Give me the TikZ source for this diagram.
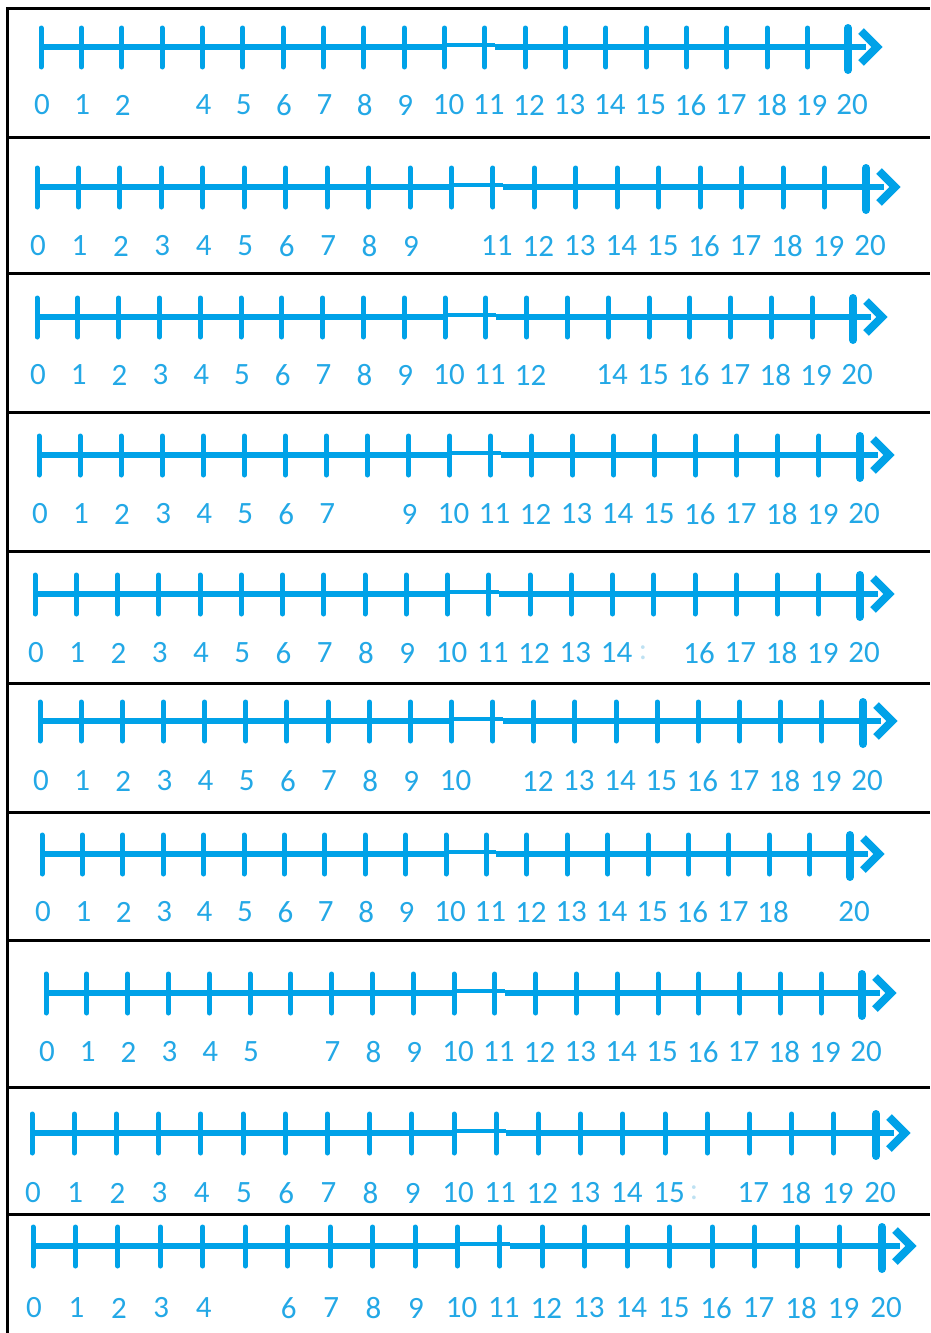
\documentclass[tikz,border=0pt]{standalone}
\usepackage{fontspec}
\setmainfont{Carlito}
\definecolor{nlblue}{RGB}{0,162,232}
\definecolor{nltext}{RGB}{35,168,230}
\definecolor{faint}{RGB}{190,225,242}
\tikzset{
  x=1pt, y=-1pt,
  frameline/.style={line width=3pt, black},
  mainline/.style={line width=5.5pt, nlblue},
  joinline/.style={line width=4.5pt, nlblue},
  tickline/.style={line width=5pt, nlblue, line cap=round},
  endtick/.style={line width=8pt, nlblue, line cap=round},
  chevron/.style={line width=8pt, nlblue, miter limit=10},
  lbl/.style={text=nltext, font=\fontsize{31}{31}\selectfont, inner sep=0pt, anchor=center},
}
\newcommand\numline[6]{%
  \pgfmathsetmacro\dx{(#3-#2)/20}%
  \pgfmathsetmacro\tten{#2+10*\dx}%
  \pgfmathsetmacro\televen{#2+11*\dx+10}%
  \draw[mainline] (#2,#4) -- (\tten,#4);
  \draw[joinline] (\tten,#4-2) -- (\televen,#4-2);
  \draw[mainline] (\televen,#4) -- (#3+18,#4);
  \foreach \k in {0,...,19}{%
    \pgfmathsetmacro\tx{#2+\k*\dx}%
    \draw[tickline] (\tx,#4-19) -- (\tx,#4+20);
  }
  \draw[endtick] (#3,#4-19) -- (#3,#4+23);
  \draw[chevron] (#3+13,#4-16) -- (#3+29,#4) -- (#3+13,#4+16);
  \foreach \k in {0,...,20}{%
    \pgfmathsetmacro\tx{#2+\k*\dx+(\k>9?4:1)}%
    \ifnum\k=#6\relax\else
      \node[lbl] (r#1-\k) at (\tx,#5) {\k};
    \fi
  }
}
\begin{document}
\begin{tikzpicture}
\useasboundingbox (0,0) rectangle (930,1333);
% frame
\draw[frameline] (7,1333) -- (7,8) -- (930,8);
\foreach \yy [count=\i] in {137,273,412,551,683,812,940,1087,1214}{
  \draw[frameline] (7,\yy) -- (930,\yy);
}
\numline{1}{41}{848}{47}{105}{3}
\numline{2}{37}{866}{187}{246}{10}
\numline{3}{37}{853}{317}{375}{13}
\numline{4}{39}{860}{455}{514}{8}
\numline{5}{35}{860}{594}{653}{15}
\numline{6}{40}{863}{721}{781}{11}
\numline{7}{42}{850}{854}{912}{19}
\numline{8}{46}{862}{993}{1052}{6}
\numline{9}{32}{876}{1133}{1193}{16}
\numline{10}{33}{882}{1246}{1308}{5}
\node[lbl, text=faint] (r5-colon) at (643,653) {:};
\node[lbl, text=faint] (r9-colon) at (694,1193) {:};
\end{tikzpicture}
\end{document}
